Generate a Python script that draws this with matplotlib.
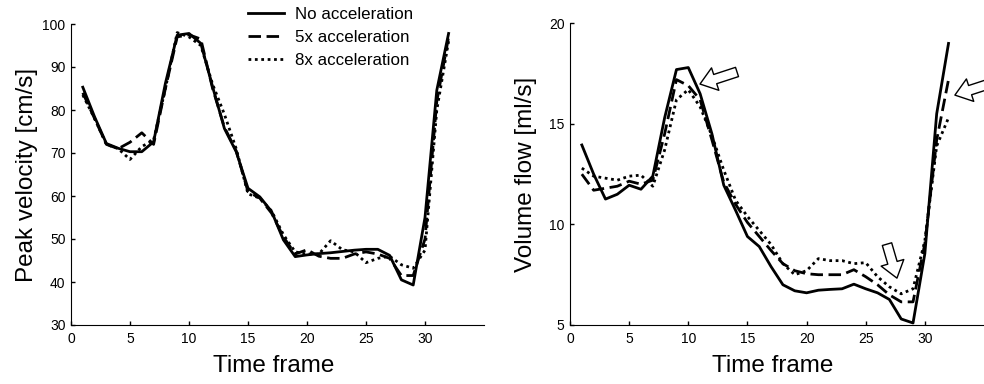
import matplotlib
matplotlib.use("Agg")
import matplotlib.pyplot as plt

plt.rcParams['font.family'] = ['Liberation Sans', 'DejaVu Sans']

frames = list(range(1, 33))

# Peak velocity [cm/s]
pv_none = [85.3, 78.4, 72.2, 71.1, 70.3, 70.3, 72.6, 86.2, 97.4, 97.8, 95.5, 85.4,
           75.7, 70.3, 61.8, 59.8, 56.4, 49.8, 45.9, 46.3, 46.6, 46.8, 47.1, 47.4,
           47.6, 47.6, 46.2, 40.5, 39.3, 55.0, 84.6, 97.8]
pv_5x = [84.0, 78.0, 72.0, 71.0, 72.5, 74.7, 72.0, 85.0, 97.0, 97.5, 96.5, 85.0,
         76.0, 70.5, 61.0, 59.5, 56.0, 50.5, 46.5, 47.5, 46.0, 45.5, 45.5, 46.5,
         47.0, 46.5, 45.5, 41.5, 41.5, 50.0, 82.0, 97.0]
pv_8x = [83.5, 78.0, 72.0, 71.0, 68.5, 71.5, 73.0, 85.0, 98.0, 97.0, 95.0, 86.0,
         79.0, 71.0, 60.5, 59.5, 56.5, 51.0, 47.0, 46.5, 46.5, 49.6, 47.5, 47.0,
         44.5, 45.5, 46.0, 44.0, 43.2, 47.4, 80.0, 96.0]

# Volume flow [ml/s]
vf_none = [13.95, 12.5, 11.26, 11.5, 11.95, 11.75, 12.4, 15.3, 17.7, 17.8, 16.5, 14.5,
           11.95, 10.7, 9.4, 8.9, 7.9, 7.0, 6.7, 6.6, 6.73, 6.77, 6.8, 7.03,
           6.8, 6.6, 6.27, 5.3, 5.1, 8.55, 15.5, 19.0]
vf_5x = [12.5, 11.7, 11.8, 11.9, 12.15, 12.0, 12.2, 14.5, 17.2, 16.9, 16.2, 14.2,
         12.1, 11.0, 10.1, 9.4, 8.7, 8.05, 7.7, 7.55, 7.5, 7.5, 7.5, 7.75,
         7.4, 7.0, 6.5, 6.15, 6.15, 9.05, 14.2, 17.2]
vf_8x = [12.8, 12.4, 12.3, 12.2, 12.4, 12.45, 11.9, 13.7, 16.2, 16.7, 15.85, 14.4,
         12.7, 11.2, 10.4, 9.7, 9.0, 8.05, 7.5, 7.7, 8.3, 8.2, 8.2, 8.05,
         8.1, 7.4, 6.9, 6.55, 6.8, 9.2, 13.9, 15.3]

labels = ["No acceleration", "5x acceleration", "8x acceleration"]

fig = plt.figure(figsize=(9.84, 3.84), dpi=100)
W, H = 984, 384
ax1 = fig.add_axes([71 / W, (H - 325) / H, 413 / W, 301 / H])
ax2 = fig.add_axes([570 / W, (H - 325) / H, 414 / W, 301.7 / H])

styles = [dict(ls='-', lw=2.0),
          dict(ls=(0, (4.5, 2.0)), lw=2.0),
          dict(ls=(0, (1.0, 1.3)), lw=2.0)]

handles = []
for ys, st in zip([pv_none, pv_5x, pv_8x], styles):
    h, = ax1.plot(frames, ys, color='black', **st)
    handles.append(h)
for ys, st in zip([vf_none, vf_5x, vf_8x], styles):
    ax2.plot(frames, ys, color='black', **st)

ax1.set_xlim(0, 35)
ax1.set_ylim(30, 100)
ax1.set_yticks(range(30, 101, 10))
ax2.set_xlim(0, 35)
ax2.set_ylim(5, 20)
ax2.set_yticks([5, 10, 15, 20])

for ax, yl in [(ax1, "Peak velocity [cm/s]"), (ax2, "Volume flow [ml/s]")]:
    ax.set_xticks(range(0, 31, 5))
    ax.spines['top'].set_visible(False)
    ax.spines['right'].set_visible(False)
    ax.tick_params(direction='in', length=3, width=1, labelsize=10, pad=4)
    ax.tick_params(axis='x', pad=5)
    ax.set_xlabel("Time frame", fontsize=17.5)
    ax.set_ylabel(yl, fontsize=17.5)
    w = ax.get_position().width * W
    hgt = ax.get_position().height * H
    ax.xaxis.set_label_coords(0.49, -29.5 / hgt)
    ax.yaxis.set_label_coords(-33 / w, 0.5)

fig.legend(handles, labels, loc='upper left', bbox_to_anchor=(248 / W, 1 - 7 / H),
           frameon=False, fontsize=12.2, borderpad=0, borderaxespad=0,
           handlelength=2.1, handletextpad=0.7, labelspacing=0.48)

astyle = "simple,head_length=1.15,head_width=1.7,tail_width=0.7"
for tip, tail in [((10.99, 16.98), (14.12, 17.58)),
                  ((32.54, 16.43), (35.67, 17.03)),
                  ((27.64, 7.33), (26.8, 9.02))]:
    ax2.annotate('', xy=tip, xytext=tail, annotation_clip=False,
                 arrowprops=dict(arrowstyle=astyle, fc='white', ec='black', lw=1,
                                 mutation_scale=10, shrinkA=0, shrinkB=0))

fig.savefig("out.png", dpi=100)
